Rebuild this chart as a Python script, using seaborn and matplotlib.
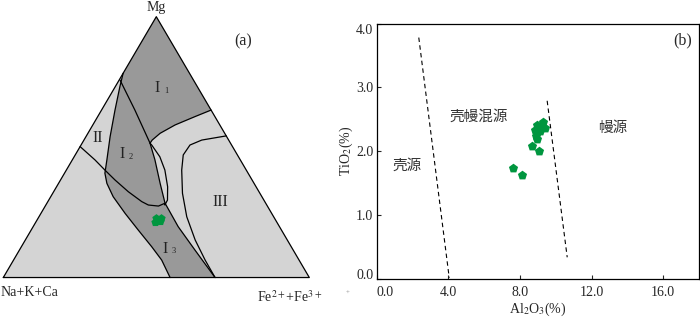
import numpy as np
import pandas as pd
import seaborn as sns
import matplotlib.pyplot as plt

# ---- panel (a): field boundaries in ternary %, (Fe2++Fe3+, Mg) ----
main_fe = [0.3, 10.9, 22.2, 27.0, 33.2, 38.6, 47.4, 57.4, 69.2]
main_mg = [75.7, 64.2, 51.5, 45.1, 36.1, 28.5, 19.5, 10.5, 0.0]
i1_fe = [35.8, 31.8, 26.9, 23.6, 22.3, 22.2]
i1_mg = [64.2, 61.7, 58.5, 55.3, 52.7, 51.5]
oval_fe = [22.2, 23.1, 28.0, 32.2, 36.3, 38.8, 38.9, 38.6]
oval_mg = [51.5, 50.8, 46.3, 41.2, 34.8, 29.7, 27.8, 28.5]
ii_fe = [0.0, 7.4, 12.6, 17.8, 24.4, 30.7, 33.5, 37.0, 38.6]
ii_mg = [50.2, 45.1, 41.2, 37.4, 32.9, 29.1, 27.8, 27.4, 28.5]
left_fe = [0.0, 1.5, 4.4, 7.9, 11.3, 13.2, 15.8, 20.4, 27.5, 35.0, 42.6, 48.4, 54.5]
left_mg = [78.3, 73.2, 64.2, 54.0, 45.1, 40.0, 36.1, 31.0, 24.6, 18.2, 11.8, 6.7, 0.0]
iii_fe = [45.7, 38.5, 35.6, 35.3, 37.7, 42.4, 48.3, 55.5, 62.6, 69.2]
iii_mg = [54.3, 52.7, 50.8, 47.0, 41.2, 32.3, 23.3, 14.4, 6.7, 0.0]

# samples on the ternary plot
sample_fe = [38.6, 40.2, 39.0, 40.6, 39.6]
sample_mg = [22.8, 22.9, 21.3, 21.5, 22.1]

# ---- panel (b): Al2O3 vs TiO2 ----
al2o3 = [7.63, 8.10, 8.68, 9.06, 8.89, 8.96, 9.30, 9.39, 9.11, 8.93, 9.15, 8.85]
tio2 = [1.73, 1.63, 2.09, 2.00, 2.24, 2.41, 2.46, 2.37, 2.32, 2.19, 2.40, 2.33]
crust_x = [2.35, 4.05]
crust_y = [3.78, 0.02]
mantle_x = [9.52, 10.64]
mantle_y = [2.79, 0.34]

LIGHT = '#d4d4d4'
DARK = '#999999'
GREEN = '#00963f'


def tern(fe, mg):
    fe = np.asarray(fe) / 100.0
    mg = np.asarray(mg) / 100.0
    return fe + mg / 2.0, mg


sns.set_style('ticks')
plt.rcParams['font.family'] = ['Liberation Serif', 'DejaVu Serif']
plt.rcParams['mathtext.fontset'] = 'stix'
cjk = ['Noto Sans CJK SC', 'DejaVu Sans']

fig = plt.figure(figsize=(7, 3.19), dpi=100)

# ---------------- ternary diagram ----------------
ax1 = fig.add_axes([0, 0, 330 / 700, 1])
ax1.set_xlim(-0.0108, 1.0676)
ax1.set_ylim(-0.159, 1.064)
ax1.axis('off')

tx, ty = tern([0, 100, 0, 0], [0, 0, 100, 0])
ax1.fill(tx, ty, color=LIGHT, lw=0, zorder=1)

dark_fe = [0.0] + i1_fe + main_fe[3:] + left_fe[::-1]
dark_mg = [100.0] + i1_mg + main_mg[3:] + left_mg[::-1]
dx, dy = tern(dark_fe, dark_mg)
ax1.fill(dx, dy, color=DARK, lw=0, zorder=1)

hole_fe = oval_fe + main_fe[2:6][::-1]
hole_mg = oval_mg + main_mg[2:6][::-1]
hx, hy = tern(hole_fe, hole_mg)
ax1.fill(hx, hy, color=LIGHT, lw=0, zorder=1)

for fe, mg in [(main_fe, main_mg), (i1_fe, i1_mg), (oval_fe, oval_mg),
               (ii_fe, ii_mg), (left_fe, left_mg), (iii_fe, iii_mg)]:
    lx, ly = tern(fe, mg)
    ax1.plot(lx, ly, color='black', lw=0.9, zorder=2)
ax1.plot(tx, ty, color='black', lw=0.9, zorder=2)

sx, sy = tern(sample_fe, sample_mg)
sns.scatterplot(x=sx, y=sy, marker='p', s=40, color=GREEN, edgecolor=GREEN,
                linewidth=0, ax=ax1, zorder=3, legend=False)

ax1.text(0.5, 1.022, 'Mg', ha='center', va='baseline', fontsize=10)
ax1.text(0.085, -0.071, 'Na+K+Ca', ha='center', va='baseline', fontsize=10)
ax1.text(0.935, -0.093, 'Fe$^{2+}$+Fe$^{3+}$', ha='center', va='baseline', fontsize=10)
ax1.text(0.784, 0.904, '(a)', ha='center', va='center', fontsize=11.5)

roman = [('I', 0.501, 0.725, '1', 0.532, 0.714),
         ('I', 0.387, 0.472, '2', 0.416, 0.463),
         ('I', 0.528, 0.109, '3', 0.558, 0.102)]
for big, bx, by, sub, ux, uy in roman:
    ax1.text(bx, by, big, ha='center', va='center', fontsize=11.5, color='#222222')
    ax1.text(ux, uy, sub, ha='center', va='center', fontsize=6, color='#222222')
ax1.text(0.310, 0.534, 'II', ha='center', va='center', fontsize=11.5, color='#222222')
ax1.text(0.708, 0.291, 'III', ha='center', va='center', fontsize=11.5, color='#222222')

# ---------------- Al2O3 - TiO2 diagram ----------------
ax2 = fig.add_axes([376.7 / 700, 1 - 279 / 319, (699 - 376.7) / 700, (279 - 23.5) / 319])
sns.scatterplot(x=al2o3, y=tio2, marker='p', s=48, color=GREEN, edgecolor=GREEN,
                linewidth=0, ax=ax2, zorder=3, legend=False)
sns.lineplot(x=crust_x, y=crust_y, color='black', lw=0.8, ax=ax2, sort=False,
             linestyle=(0, (4, 3)), legend=False)
sns.lineplot(x=mantle_x, y=mantle_y, color='black', lw=0.8, ax=ax2, sort=False,
             linestyle=(0, (4, 3)), legend=False)

ax2.set_xlim(0, 18)
ax2.set_ylim(0, 4.0)
ax2.set_xticks([0, 4, 8, 12, 16], ['0.0', '4.0', '8.0', '12.0', '16.0'])
ax2.set_yticks([0, 1, 2, 3, 4], ['0.0', '1.0', '2.0', '3.0', '4.0'])
xl = ax2.get_xticklabels()
yl = ax2.get_yticklabels()
xl[0].set_ha('left')
yl[0].set_va('baseline')
yl[-1].set_va('top')
ax2.tick_params(axis='x', direction='in', length=3, width=0.8, labelsize=10, pad=5)
ax2.tick_params(axis='y', direction='in', length=3, width=0.8, labelsize=10, pad=2.5)
for sp in ax2.spines.values():
    sp.set_visible(True)
    sp.set_linewidth(0.9)
    sp.set_color('black')
ax2.set_xlabel('Al$_2$O$_3$(%)', fontsize=10, labelpad=1.5)
ax2.set_ylabel('TiO$_2$(%)', fontsize=10, labelpad=1)

ax2.text(1.72, 1.77, '壳源', family=cjk, fontsize=10.5, ha='center', va='center', color='#333333')
ax2.text(5.72, 2.54, '壳幔混源', family=cjk, fontsize=10.5, ha='center', va='center', color='#333333')
ax2.text(13.16, 2.36, '幔源', family=cjk, fontsize=10.5, ha='center', va='center', color='#333333')
ax2.text(17.09, 3.74, '(b)', ha='center', va='center', fontsize=11.5)

fig.text(348 / 700, 1 - 293 / 319, '+', ha='center', va='center', fontsize=5, color='#888888')

fig.savefig('out.png', dpi=100)
